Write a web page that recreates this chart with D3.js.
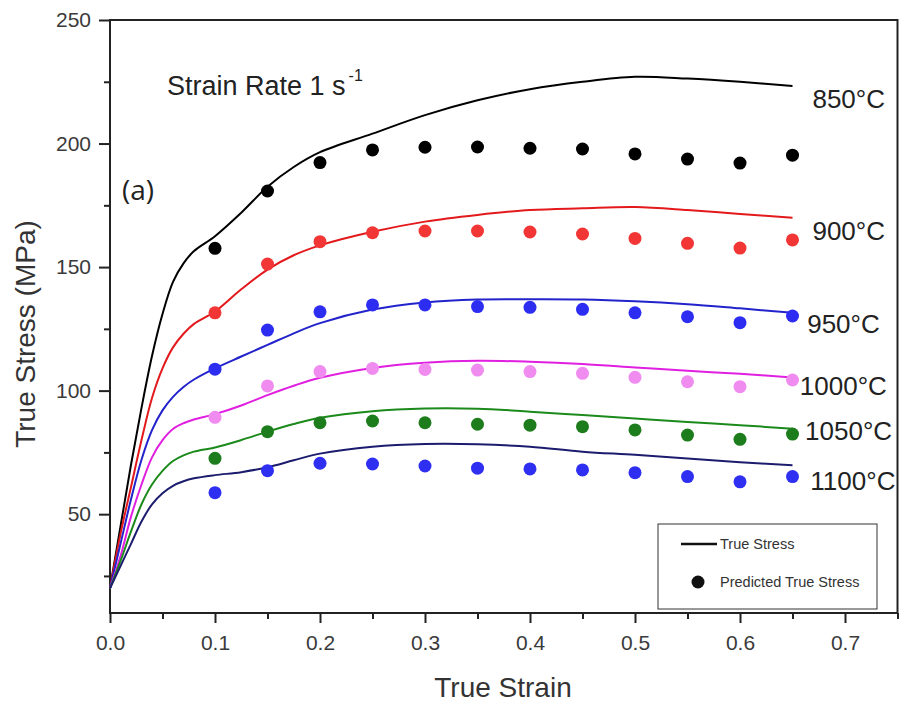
<!DOCTYPE html>
<html>
<head>
<meta charset="utf-8">
<script src="https://cdn.jsdelivr.net/npm/d3@7"></script>
<style>
  body { margin: 0; background: #fff; }
  svg { display: block; font-family: "Liberation Sans", Arial, sans-serif; }
</style>
</head>
<body>
<svg id="chart" width="901" height="707"></svg>
<script>
// strain grid for the measured curves
var strain = [0, 0.01, 0.02, 0.03, 0.04, 0.05, 0.06, 0.07, 0.08, 0.1, 0.125, 0.15, 0.175, 0.2, 0.25, 0.3, 0.35, 0.4, 0.45, 0.5, 0.55, 0.6, 0.65]
// strain values of the predicted points
var predStrain = [0.1, 0.15, 0.2, 0.25, 0.3, 0.35, 0.4, 0.45, 0.5, 0.55, 0.6, 0.65]

var temps = ["850°C", "900°C", "950°C", "1000°C", "1050°C", "1100°C"]

var stress850 = [20, 45, 70, 93, 114, 131, 144, 151.5, 156.5, 162.5, 172, 182.5, 190.5, 196.5, 204, 211.5, 217.5, 222, 225, 227, 226.3, 225, 223.3]
var stress900 = [20, 42, 61, 80, 97, 109, 117.5, 123, 127, 132, 141, 149, 154.8, 158.8, 164.3, 168.4, 171.1, 173.1, 173.8, 174.3, 173.1, 171.5, 170]
var stress950 = [20, 38, 56, 72, 84, 92, 97.5, 101.5, 104.5, 109, 113.8, 118.5, 123.2, 127.3, 132.8, 135.7, 136.9, 137, 136.9, 136.2, 135, 133.3, 131.5]
var stress1000 = [20, 33, 49, 62, 73, 80, 84.5, 86.8, 88.3, 90.5, 94, 98.2, 102, 105.2, 109.2, 111.3, 112.1, 111.7, 110.8, 109.4, 108, 106.8, 105.3]
var stress1050 = [20, 31, 43, 54, 62, 67.5, 71.5, 73.8, 75.3, 77, 80, 83.4, 86.5, 89, 91.7, 92.8, 92.7, 91.5, 90.1, 88.7, 87.3, 86, 84.6]
var stress1100 = [20, 29, 38, 47, 54, 58.5, 61.5, 63.3, 64.5, 65.8, 67, 69, 71.8, 74.5, 77.3, 78.4, 78.3, 77.3, 75.3, 74, 72.5, 71, 69.8]

var pred850 = [157.6, 180.8, 192.3, 197.4, 198.5, 198.6, 198.1, 197.8, 195.8, 193.7, 192.1, 195.3]
var pred900 = [131.5, 151.2, 160.3, 163.9, 164.6, 164.6, 164.2, 163.4, 161.6, 159.6, 157.7, 161]
var pred950 = [108.7, 124.5, 131.9, 134.7, 134.7, 134, 133.7, 132.9, 131.5, 129.9, 127.5, 130.2]
var pred1000 = [89.2, 101.9, 107.7, 109, 108.6, 108.3, 107.7, 107, 105.4, 103.6, 101.6, 104.3]
var pred1050 = [72.6, 83.4, 87, 87.7, 87, 86.4, 86, 85.4, 84.1, 82, 80.3, 82.4]
var pred1100 = [58.7, 67.6, 70.6, 70.3, 69.5, 68.6, 68.3, 67.9, 66.8, 65.2, 63.1, 65.2]

// where each temperature label sits (strain, stress)
var labelStrain = [0.669, 0.669, 0.664, 0.657, 0.662, 0.667]
var labelStress = [214.4, 161, 123.3, 98.2, 80, 59.8]

var xMajor = [0, 0.1, 0.2, 0.3, 0.4, 0.5, 0.6, 0.7]
var xMinor = [0.05, 0.15, 0.25, 0.35, 0.45, 0.55, 0.65, 0.75]
var yMajor = [50, 100, 150, 200, 250]
var yMinor = [25, 75, 125, 175, 225]

var lineColours = ["#000000", "#e3191c", "#2323cc", "#e01fe0", "#1b8a1b", "#1c1c6e"]
var dotColours = ["#000000", "#f23535", "#2d2df2", "#f08cf0", "#1d7d1d", "#2f2ff2"]

var curves = [stress850, stress900, stress950, stress1000, stress1050, stress1100]
var preds = [pred850, pred900, pred950, pred1000, pred1050, pred1100]

var svg = d3.select("#chart")

var xScale = d3.scaleLinear().domain([0, 0.75]).range([110, 897.5])
var yScale = d3.scaleLinear().domain([10, 250]).range([613, 20])

// axes
var gx = svg.append("g").attr("transform", "translate(0," + yScale(10) + ")")
gx.call(d3.axisBottom(xScale).tickValues(xMajor).tickSize(10).tickPadding(12).tickFormat(d3.format(".1f")))
gx.append("g").call(d3.axisBottom(xScale).tickValues(xMinor).tickSize(6).tickFormat(""))

var gy = svg.append("g").attr("transform", "translate(" + xScale(0) + ",0)")
gy.call(d3.axisLeft(yScale).tickValues(yMajor).tickSize(11).tickPadding(8))
gy.append("g").call(d3.axisLeft(yScale).tickValues(yMinor).tickSize(6).tickFormat(""))

svg.selectAll(".domain").remove()
svg.selectAll(".tick line").attr("stroke", "#222").attr("stroke-width", 2)
svg.selectAll(".tick text").attr("fill", "#3a3a3a").style("font-size", "21px")

// frame
svg.append("rect")
  .attr("x", xScale(0)).attr("y", yScale(250))
  .attr("width", xScale(0.75) - xScale(0)).attr("height", yScale(10) - yScale(250))
  .attr("fill", "none").attr("stroke", "#222").attr("stroke-width", 2)

var line = d3.line()
  .curve(d3.curveCatmullRom.alpha(0.5))
  .x(function(d, i) { return xScale(strain[i]) })
  .y(function(d) { return yScale(d) })

curves.forEach(function(c, i) {
  svg.append("path")
    .datum(c)
    .attr("d", line)
    .attr("fill", "none")
    .attr("stroke", lineColours[i])
    .attr("stroke-width", 2)
})

preds.forEach(function(p, i) {
  svg.append("g").selectAll("circle")
    .data(p)
    .join("circle")
    .attr("cx", function(d, j) { return xScale(predStrain[j]) })
    .attr("cy", function(d) { return yScale(d) })
    .attr("r", 6.5)
    .attr("fill", dotColours[i])
})

// temperature labels
svg.append("g").selectAll("text")
  .data(temps)
  .join("text")
  .attr("x", function(d, i) { return xScale(labelStrain[i]) })
  .attr("y", function(d, i) { return yScale(labelStress[i]) })
  .attr("fill", "#222")
  .style("font-size", "26px")
  .text(function(d) { return d })

// annotations
var rate = svg.append("text")
  .attr("x", 167).attr("y", 95)
  .attr("fill", "#222")
  .style("font-size", "27px")
rate.append("tspan").text("Strain Rate 1 s")
rate.append("tspan").attr("dy", -14).attr("dx", 3).style("font-size", "16px").text("-1")

svg.append("text")
  .attr("x", 122).attr("y", 200)
  .attr("fill", "#222")
  .style("font-family", "'Open Sans', sans-serif")
  .style("font-size", "28px")
  .text("(a)")

// axis titles
svg.append("text")
  .attr("x", 503).attr("y", 697)
  .attr("text-anchor", "middle")
  .attr("fill", "#333")
  .style("font-size", "28px")
  .text("True Strain")

svg.append("text")
  .attr("transform", "translate(35,334) rotate(-90)")
  .attr("text-anchor", "middle")
  .attr("fill", "#333")
  .style("font-size", "28px")
  .text("True Stress (MPa)")

// legend
var legend = svg.append("g")
legend.append("rect")
  .attr("x", 658).attr("y", 524).attr("width", 219).attr("height", 85)
  .attr("fill", "#fff").attr("stroke", "#333").attr("stroke-width", 1)
legend.append("line")
  .attr("x1", 681).attr("x2", 717).attr("y1", 544).attr("y2", 544)
  .attr("stroke", "#111").attr("stroke-width", 2.5)
legend.append("text")
  .attr("x", 720).attr("y", 549)
  .attr("fill", "#333").style("font-size", "14.5px")
  .text("True Stress")
legend.append("circle")
  .attr("cx", 698).attr("cy", 582).attr("r", 6.5).attr("fill", "#111")
legend.append("text")
  .attr("x", 720).attr("y", 587)
  .attr("fill", "#333").style("font-size", "14.5px")
  .text("Predicted True Stress")
</script>
</body>
</html>
